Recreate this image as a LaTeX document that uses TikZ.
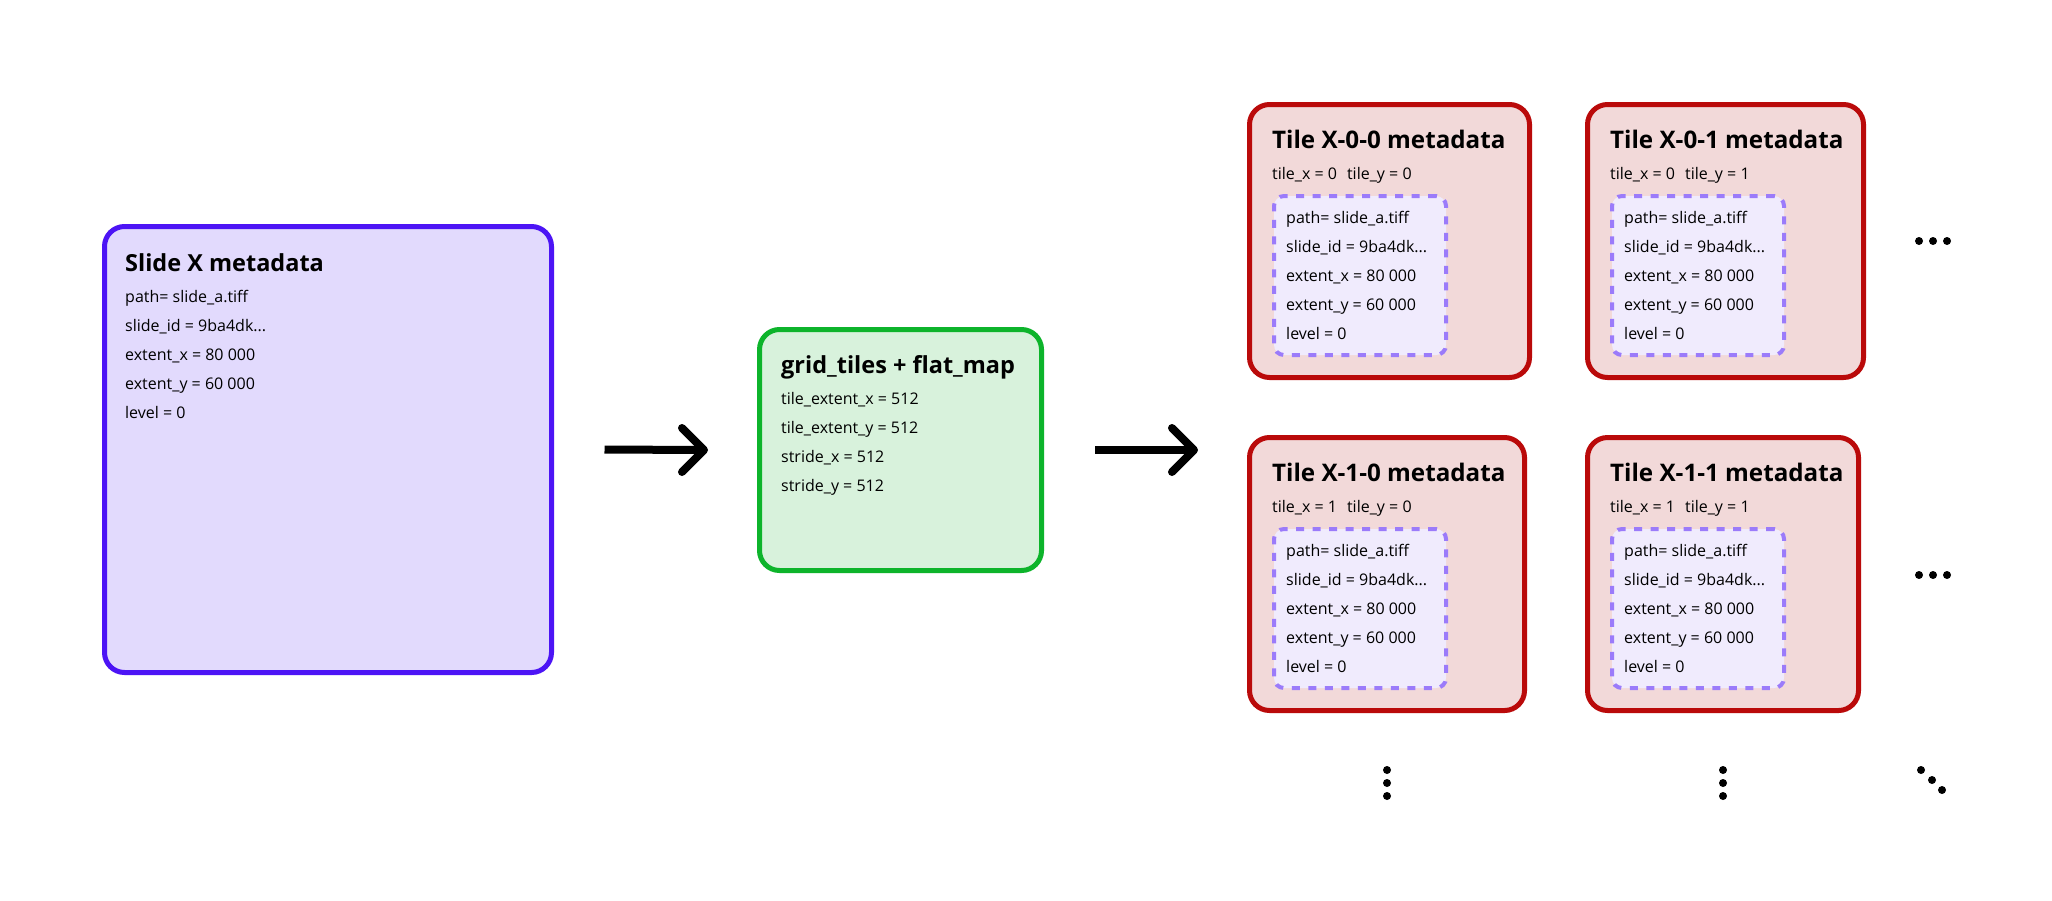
\documentclass[tikz,border=0pt]{standalone}
\usepackage{fontspec}
\setmainfont{Open Sans}
\definecolor{slidefill}{HTML}{E2DAFD}
\definecolor{slidedraw}{HTML}{4C14F5}
\definecolor{greenfill}{HTML}{D8F2DC}
\definecolor{greendraw}{HTML}{0DB42B}
\definecolor{redfill}{HTML}{F2D9D9}
\definecolor{reddraw}{HTML}{BA0A0A}
\definecolor{innerfill}{HTML}{F0EBFD}
\definecolor{innerdraw}{HTML}{9B7BFA}
\tikzset{
  box/.style={anchor=north west, inner sep=0pt, outer sep=0pt, rounded corners=20pt, line width=5pt},
  slidebox/.style={box, fill=slidefill, draw=slidedraw},
  opbox/.style={box, fill=greenfill, draw=greendraw},
  tilebox/.style={box, fill=redfill, draw=reddraw},
  innerbox/.style={anchor=north west, inner sep=0pt, outer sep=0pt, rounded corners=10pt, line width=4pt, fill=innerfill, draw=innerdraw, dash pattern=on 8pt off 8.5pt},
  ttl/.style={anchor=base west, inner sep=0pt, font=\fontsize{23.5}{28}\selectfont\bfseries},
  tilettl/.style={anchor=base west, inner sep=0pt, font=\fontsize{24.2}{28}\selectfont\bfseries},
  txt/.style={anchor=base west, inner sep=0pt, font=\fontsize{16}{19}\selectfont},
  shaft/.style={line width=8pt, line cap=butt},
  head/.style={line width=8pt, line cap=round, line join=round},
}
\begin{document}
\begin{tikzpicture}[x=1pt, y=-1pt]
\path[use as bounding box, fill=white] (0,0) rectangle (2052,900);

% Slide
\node[slidebox, minimum width=447pt, minimum height=446pt] (slide) at (104.5,226.5) {};
\node[ttl] (st) at (125,271) {Slide X metadata};
\node[txt] (s1) at (125,302) {path= slide\_a.tiff};
\node[txt] (s2) at (125,331) {slide\_id = 9ba4dk...};
\node[txt] (s3) at (125,360) {extent\_x = 80 000};
\node[txt] (s4) at (125,389) {extent\_y = 60 000};
\node[txt] (s5) at (125,418) {level = 0};

% grid tiles
\node[opbox, minimum width=282pt, minimum height=241pt] (grid) at (759.5,329.5) {};
\node[ttl] (gt) at (781,373) {grid\_tiles + flat\_map};
\node[txt] (g1) at (781,404) {tile\_extent\_x = 512};
\node[txt] (g2) at (781,433) {tile\_extent\_y = 512};
\node[txt] (g3) at (781,462) {stride\_x = 512};
\node[txt] (g4) at (781,491) {stride\_y = 512};

% arrows
\draw[shaft] ([xshift=53pt]slide.east) -- ([xshift=-55.5pt]grid.west) coordinate (a1);
\draw[head] ([shift={(-22,-22)}]a1) -- (a1) -- ([shift={(-22,22)}]a1);
\draw[shaft] ([xshift=53.5pt]grid.east) -- ([xshift=152.5pt]grid.east) coordinate (a2);
\draw[head] ([shift={(-22,-22)}]a2) -- (a2) -- ([shift={(-22,22)}]a2);

% tiles
\foreach \nm/\tx/\ty/\w/\r/\c/\lab in {t00/1249.5/104.5/280/0/0/0-0, t01/1587.5/104.5/276/0/1/0-1, t10/1249.5/437.5/275/1/0/1-0, t11/1587.5/437.5/271/1/1/1-1}{
  \node[tilebox, minimum width=\w pt, minimum height=273pt] (\nm) at (\tx,\ty) {};
  \node[tilettl] (\nm-t) at ([shift={(22.5,43.5)}]\nm.north west) {Tile X-\lab\ metadata};
  \node[txt] (\nm-xy) at ([shift={(22.5,74.5)}]\nm.north west) {tile\_x = \r\hspace{10pt}tile\_y = \c};
  \node[innerbox, minimum width=172pt, minimum height=159pt] (\nm-in) at ([shift={(24.5,91.5)}]\nm.north west) {};
  \node[txt] (\nm-1) at ([shift={(12,27)}]\nm-in.north west) {path= slide\_a.tiff};
  \node[txt] (\nm-2) at ([shift={(12,56)}]\nm-in.north west) {slide\_id = 9ba4dk...};
  \node[txt] (\nm-3) at ([shift={(12,85)}]\nm-in.north west) {extent\_x = 80 000};
  \node[txt] (\nm-4) at ([shift={(12,114)}]\nm-in.north west) {extent\_y = 60 000};
  \node[txt] (\nm-5) at ([shift={(12,143)}]\nm-in.north west) {level = 0};
}

% continuation dots
\foreach \x/\y in {1919/241, 1933/241, 1947/241, 1919/575, 1933/575, 1947/575,
  1387/770, 1387/783, 1387/796, 1723/770, 1723/783, 1723/796,
  1921/770, 1932/780, 1942/790}{
  \fill (\x,\y) circle[radius=4pt];
}
\end{tikzpicture}
\end{document}
